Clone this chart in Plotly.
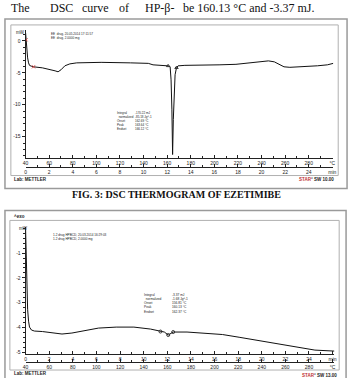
import numpy as np
import plotly.graph_objects as go

W, H = 353, 378

# ---------------- data ----------------
# Plot 1: DSC thermogram of Ezetimibe (temperature in °C, heat flow in mW)
temp1 = [40, 40.4, 40.8, 41.7, 42.5, 43.3, 45, 46.7, 54.2, 60.8, 65, 67.5, 70, 73.3, 77.5,
         83.3, 104, 129, 144, 148, 154, 160.8, 162.5, 163.3, 164, 164.6, 165.2, 165.8,
         166.7, 167.9, 169.2, 175, 187.5, 204, 218.3, 229, 239, 245.8, 250.8, 255, 259,
         264, 275, 287.5, 295.8, 300.8]
heat1 = [1.25, 0.16, -1.1, -2.66, -3.44, -3.83, -3.98, -4.06, -4.22, -4.45, -4.69, -4.84,
         -4.53, -3.9, -3.6, -3.44, -3.36, -3.44, -3.52, -3.75, -3.83, -3.91, -4.06, -6.1,
         -10.8, -17.8, -12.3, -7.66, -5.3, -4.2, -3.91, -3.83, -3.83, -3.75, -3.67, -3.44,
         -3.2, -3.13, -3.28, -3.67, -4.06, -4.14, -4.06, -3.9, -3.75, -3.52]

# Plot 2: DSC of drug + HPBCD
temp2 = [40, 40.4, 40.8, 41.7, 42.5, 43.3, 45, 47.5, 54.2, 62.5, 70.8, 79.2, 87.5, 101.7,
         116.7, 131.7, 145.8, 154.2, 157.5, 160.8, 163.3, 165, 176.7, 187.5, 201.7, 206.7,
         220.8, 240, 262.5, 285, 301.7]
heat2 = [-0.04, -0.85, -2.06, -3.27, -3.75, -3.99, -4.11, -4.15, -4.17, -4.23, -4.27, -4.23,
         -4.15, -4.03, -3.99, -3.99, -4.07, -4.17, -4.19, -4.31, -4.23, -4.19, -4.19, -4.23,
         -4.27, -4.29, -4.4, -4.56, -4.76, -4.92, -4.96]

heating_rate = 10.0  # K/min
temp_ticks = list(range(40, 301, 20))
temp_ticktext = [str(t) for t in temp_ticks[:-1]] + ["°C"]
min_ticks = list(range(0, 27, 2))
min_ticktext = [str(m) for m in min_ticks[:-1]] + ["min"]
heat1_ticks = [0, -5, -10, -15]
heat2_ticks = [-1, -2, -3, -4, -5]

result1_labels = ["Integral", "  normalized", "Onset", "Peak", "Endset"]
result1_values = ["-170.22 mJ", "-85.18 Jg^-1", "162.69 °C", "163.64 °C", "166.12 °C"]
result2_labels = ["Integral", "  normalized", "Onset", "Peak", "Endset"]
result2_values = ["-3.37 mJ", "-1.68 Jg^-1", "156.81 °C", "160.13 °C", "162.37 °C"]

time1 = [(t - 40) / heating_rate for t in temp1]
time2 = [(t - 40) / heating_rate for t in temp2]

# ---------------- helpers ----------------
def px(x):
    return x / W

def py(y):
    return 1 - y / H

SANS = "Liberation Sans, Arial, sans-serif"
SERIF = "Liberation Serif, Times New Roman, serif"
LINE = "#222222"

fig = go.Figure()

# Plot 1 curve
fig.add_trace(go.Scatter(x=temp1, y=heat1, xaxis="x", yaxis="y", mode="lines",
                         line=dict(color="#111111", width=1), hoverinfo="skip"))
fig.add_trace(go.Scatter(x=time1, y=heat1, xaxis="x3", yaxis="y", mode="lines",
                         line=dict(color="rgba(0,0,0,0)", width=0), hoverinfo="skip"))
fig.add_trace(go.Scatter(x=[temp1[1], temp1[7]], y=[heat1[1], heat1[7]], xaxis="x", yaxis="y",
                         mode="markers", marker=dict(symbol="x-thin-open", size=3, color="#d04040",
                                                     line=dict(width=1, color="#d04040")),
                         hoverinfo="skip"))
fig.add_trace(go.Scatter(x=[temp1[21], temp1[29]], y=[heat1[21], heat1[29]], xaxis="x", yaxis="y",
                         mode="markers", marker=dict(symbol="triangle-up-open", size=3, color="#333"),
                         hoverinfo="skip"))

# Plot 2 curve
fig.add_trace(go.Scatter(x=temp2, y=heat2, xaxis="x4", yaxis="y2", mode="lines",
                         line=dict(color="#111111", width=1), hoverinfo="skip"))
fig.add_trace(go.Scatter(x=time2, y=heat2, xaxis="x2", yaxis="y2", mode="lines",
                         line=dict(color="rgba(0,0,0,0)", width=0), hoverinfo="skip"))
fig.add_trace(go.Scatter(x=[temp2[17], temp2[19], temp2[21]], y=[heat2[17], heat2[19], heat2[21]],
                         xaxis="x4", yaxis="y2", mode="markers",
                         marker=dict(symbol="circle-open", size=3, color="#333"), hoverinfo="skip"))

axis_common = dict(showline=True, linecolor=LINE, linewidth=1, showgrid=False, zeroline=False,
                   tickcolor=LINE, tickfont=dict(family=SANS, size=5, color="#222"),
                   fixedrange=True)

def xax(domain, rng, vals, text, **kw):
    d = dict(axis_common)
    d.update(domain=domain, range=rng, tickmode="array", tickvals=vals, ticktext=text,
             ticks="inside", ticklen=3, tickwidth=1,
             minor=dict(ticks="inside", ticklen=2, tickcolor=LINE,
                        tickvals=[v + (vals[1] - vals[0]) / 2 for v in vals[:-1]]))
    d.update(kw)
    return d

def yax(domain, rng, vals, minor_step, **kw):
    d = dict(axis_common)
    d.update(domain=domain, range=rng, tickmode="array", tickvals=vals,
             ticktext=[str(v) for v in vals], ticks="outside", ticklen=3, tickwidth=1,
             minor=dict(ticks="outside", ticklen=1.5, tickcolor=LINE, dtick=minor_step))
    d.update(kw)
    return d

fig.update_layout(
    width=W, height=H, margin=dict(l=0, r=0, t=0, b=0),
    paper_bgcolor="white", plot_bgcolor="white", showlegend=False,
    xaxis=xax([px(23), px(336)], [40, 300.8], temp_ticks, temp_ticktext, anchor="y"),
    xaxis3=xax([px(23), px(336)], [0, 26.08], min_ticks, min_ticktext,
               overlaying="x", anchor="free", position=py(167), side="bottom"),
    yaxis=yax([py(158), py(30)], [-18.28, 1.72], heat1_ticks, 1, anchor="x"),
    xaxis2=xax([px(23), px(337)], [0, 26.14], min_ticks, min_ticktext, anchor="y2"),
    xaxis4=xax([px(23), px(337)], [40, 301.4], temp_ticks, temp_ticktext,
               overlaying="x2", anchor="free", position=py(363), side="bottom"),
    yaxis2=yax([py(355), py(228)], [-5.08, 0.04], heat2_ticks, 0.2, anchor="x2"),
)

shapes = []
def rect(x0, y0, x1, y1, color, width):
    shapes.append(dict(type="rect", xref="paper", yref="paper", x0=px(x0), x1=px(x1),
                       y0=py(y1), y1=py(y0), line=dict(color=color, width=width),
                       fillcolor="rgba(0,0,0,0)", layer="below"))

rect(2, 19, 350, 189, "#9a9a9a", 1.5)
rect(8, 25, 341, 176, "#b0b0b0", 1)
rect(2, 211, 349, 390, "#9a9a9a", 1.5)
rect(7, 221, 342, 371, "#b0b0b0", 1)
fig.update_layout(shapes=shapes)

ann = []
def text(x, y, s, size=4, family=SANS, color="#222", xanchor="left", yanchor="middle",
         bold=False, pad=1):
    if bold:
        s = "<b>" + s + "</b>"
    ann.append(dict(xref="paper", yref="paper", x=px(x), y=py(y), text=s, showarrow=False,
                    xanchor=xanchor, yanchor=yanchor, align="left", borderpad=pad,
                    font=dict(family=family, size=size, color=color)))

# Header words (justified text of the page)
for x, w in [(7, "The"), (47, "DSC"), (79, "curve"), (117, "of"), (143, "HP-β-"),
             (182, "be 160.13 °C and -3.37 mJ.")]:
    text(x, 0, w, size=12, family=SERIF, color="#111", yanchor="top", pad=0)

# Figure caption
text(176, 195.5, "FIG. 3: DSC THERMOGRAM OF EZETIMIBE", size=10, family=SERIF,
     color="#111", xanchor="center", bold=True)

# Plot 1 texts
text(11, 33, "mW", size=4.5)
text(48, 36, "EE  drug, 20.05.2014 17:11:57<br>EE  drug, 2.0000 mg", size=3.1, pad=0)
text(115, 121.7, "<br>".join(result1_labels), size=3, pad=0)
text(133, 121.7, "<br>".join(result1_values), size=3, pad=0)
text(9, 180, "Lab: METTLER", size=4.5, bold=True)
text(339, 180, "<span style='color:#c03030'>STAR</span>° SW 10.00", size=4.5,
     xanchor="right", bold=True)

# Plot 2 texts
text(9, 217, "^exo", size=4.5, bold=True)
text(14, 229, "mW", size=4.5)
text(50, 238, "1-2 drug HPBCD, 20.03.2014 16:29:03<br>1-2 drug HPBCD, 2.0000 mg", size=3.1, pad=0)
text(142, 304, "<br>".join(result2_labels), size=3.2, pad=0)
text(171, 304, "<br>".join(result2_values), size=3.2, pad=0)
text(9, 374.5, "Lab: METTLER", size=4.5, bold=True)
text(342, 376, "<span style='color:#c03030'>STAR</span>° SW 13.00", size=4.5,
     xanchor="right", bold=True)

fig.update_layout(annotations=ann)
fig.write_html("out.html")
